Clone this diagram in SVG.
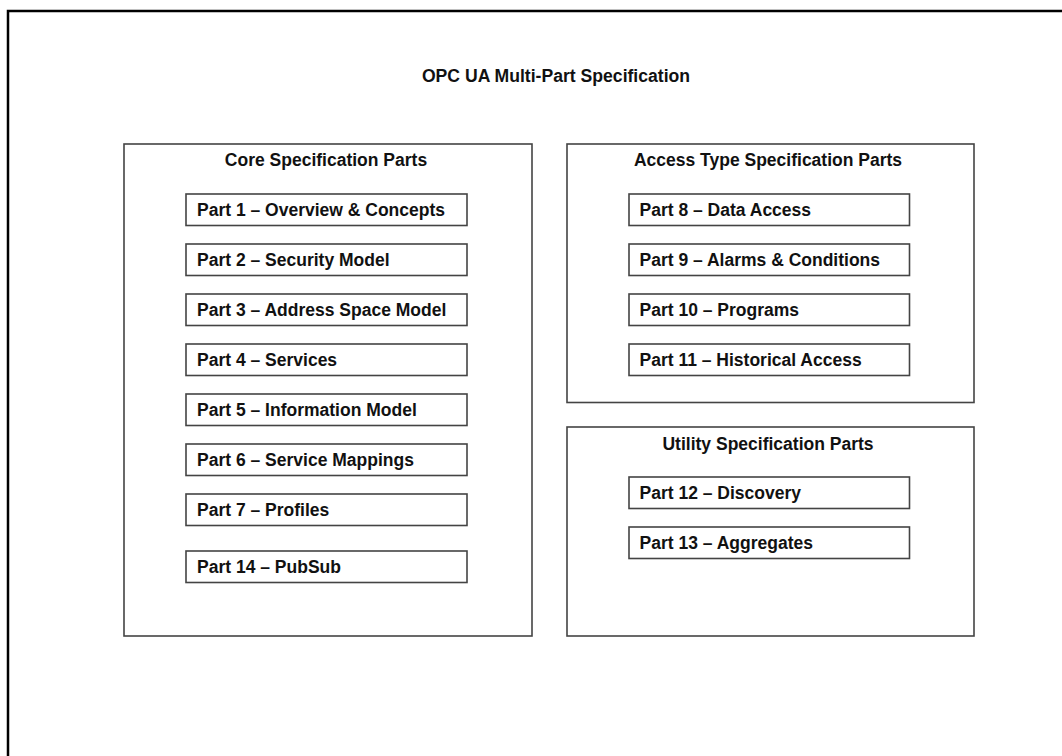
<svg xmlns="http://www.w3.org/2000/svg" width="1062" height="756" viewBox="0 0 1062 756">
<style>
.frame{fill:none;stroke:#000;stroke-width:2.5}
.group{fill:#fff;stroke:#444;stroke-width:1.6}
.part{fill:#fff;stroke:#444;stroke-width:1.6}
.t{font-family:"Liberation Sans",Arial,sans-serif;font-weight:bold;fill:#111}
.title{font-size:17.6px;text-anchor:middle}
.gt{font-size:17.5px;text-anchor:middle}
.pt{font-size:17.5px}
</style>
<rect width="1062" height="756" fill="#fff"/>
<path class="frame" d="M8,756 V11 H1062"/>
<text class="t title" x="556" y="82">OPC UA Multi-Part Specification</text>

<g id="core">
<rect class="group" x="124" y="144" width="408" height="492"/>
<text class="t gt" x="326" y="166">Core Specification Parts</text>
</g>
<g id="part1"><rect class="part" x="186" y="194" width="281" height="31.5"/><text class="t pt" x="197" y="216">Part 1 – Overview &amp; Concepts</text></g>
<g id="part2"><rect class="part" x="186" y="244" width="281" height="31.5"/><text class="t pt" x="197" y="266">Part 2 – Security Model</text></g>
<g id="part3"><rect class="part" x="186" y="294" width="281" height="31.5"/><text class="t pt" x="197" y="316">Part 3 – Address Space Model</text></g>
<g id="part4"><rect class="part" x="186" y="344" width="281" height="31.5"/><text class="t pt" x="197" y="366">Part 4 – Services</text></g>
<g id="part5"><rect class="part" x="186" y="394" width="281" height="31.5"/><text class="t pt" x="197" y="416">Part 5 – Information Model</text></g>
<g id="part6"><rect class="part" x="186" y="444" width="281" height="31.5"/><text class="t pt" x="197" y="466">Part 6 – Service Mappings</text></g>
<g id="part7"><rect class="part" x="186" y="494" width="281" height="31.5"/><text class="t pt" x="197" y="516">Part 7 – Profiles</text></g>
<g id="part14"><rect class="part" x="186" y="551" width="281" height="31.5"/><text class="t pt" x="197" y="573">Part 14 – PubSub</text></g>

<g id="access">
<rect class="group" x="567" y="144" width="407" height="258.5"/>
<text class="t gt" x="768" y="166">Access Type Specification Parts</text>
</g>
<g id="part8"><rect class="part" x="629" y="194" width="280.5" height="31.5"/><text class="t pt" x="639.5" y="216">Part 8 – Data Access</text></g>
<g id="part9"><rect class="part" x="629" y="244" width="280.5" height="31.5"/><text class="t pt" x="639.5" y="266">Part 9 – Alarms &amp; Conditions</text></g>
<g id="part10"><rect class="part" x="629" y="294" width="280.5" height="31.5"/><text class="t pt" x="639.5" y="316">Part 10 – Programs</text></g>
<g id="part11"><rect class="part" x="629" y="344" width="280.5" height="31.5"/><text class="t pt" x="639.5" y="366">Part 11 – Historical Access</text></g>

<g id="utility">
<rect class="group" x="567" y="427" width="407" height="209"/>
<text class="t gt" x="768" y="450">Utility Specification Parts</text>
</g>
<g id="part12"><rect class="part" x="629" y="477" width="280.5" height="31.5"/><text class="t pt" x="639.5" y="499">Part 12 – Discovery</text></g>
<g id="part13"><rect class="part" x="629" y="527" width="280.5" height="31.5"/><text class="t pt" x="639.5" y="549">Part 13 – Aggregates</text></g>

<g id="connectors"></g>
</svg>
